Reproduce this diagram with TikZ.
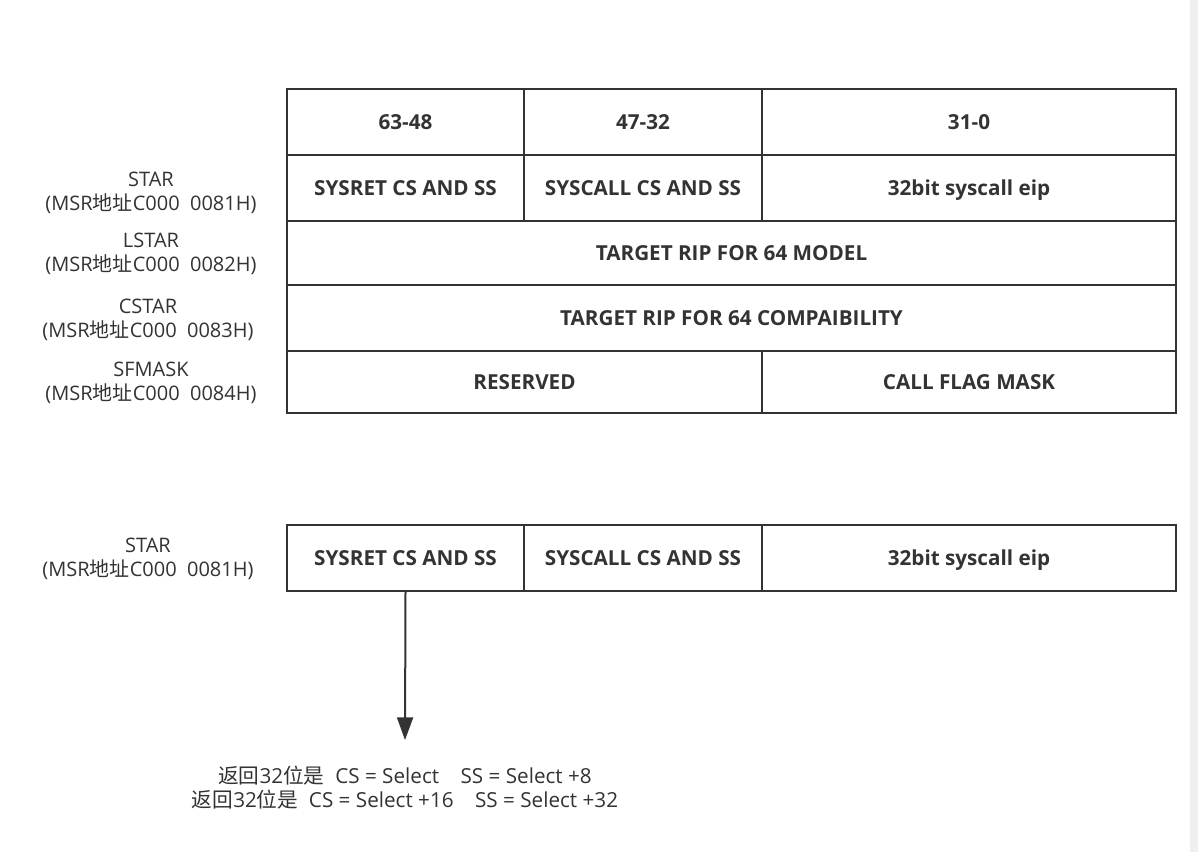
\documentclass[tikz,border=0pt]{standalone}
\usepackage{fontspec}
\setmainfont{Open Sans}
\newfontfamily\cjk{Noto Sans CJK SC}
\usetikzlibrary{arrows.meta}
\definecolor{ink}{HTML}{333333}
\definecolor{strip}{HTML}{EFEFEF}
\tikzset{
  cell/.style={draw=ink, line width=1.5pt, inner sep=0pt, text=ink, text height=14pt, text depth=3pt, font=\bfseries\fontsize{15.5}{18}\selectfont},
  reglabel/.style={align=center, text=ink, font=\fontsize{15}{18}\selectfont, inner sep=0pt},
  note/.style={align=center, text=ink, font=\fontsize{15.5}{18}\selectfont, inner sep=0pt},
  arrowline/.style={draw=ink, line width=1.5pt, -{Triangle[length=17pt,width=12pt]}}
}
\begin{document}
\begin{tikzpicture}[x=0.75pt,y=-0.75pt]
\useasboundingbox (0,0) rectangle (1198,852);
\fill[white] (0,0) rectangle (1198,852);
\fill[strip] (1190,0) rectangle (1198,852);
% header row
\node[cell, minimum width=177.75pt, minimum height=49.5pt] (h1) at (405.5,122) {63-48};
\node[cell, minimum width=178.5pt, minimum height=49.5pt] (h2) at (643,122) {47-32};
\node[cell, minimum width=310.5pt, minimum height=49.5pt] (h3) at (969,122) {31-0};
% STAR row
\node[cell, minimum width=177.75pt, minimum height=49.5pt] (s1) at (405.5,188) {SYSRET CS AND SS};
\node[cell, minimum width=178.5pt, minimum height=49.5pt] (s2) at (643,188) {SYSCALL CS AND SS};
\node[cell, minimum width=310.5pt, minimum height=49.5pt] (s3) at (969,188) {32bit syscall eip};
% LSTAR row
\node[cell, minimum width=666.75pt, minimum height=48pt] (l1) at (731.5,253) {TARGET RIP FOR 64 MODEL};
% CSTAR row
\node[cell, minimum width=666.75pt, minimum height=49.5pt] (c1) at (731.5,318) {TARGET RIP FOR 64 COMPAIBILITY};
% SFMASK row
\node[cell, minimum width=356.25pt, minimum height=46.5pt] (m1) at (524.5,382) {RESERVED};
\node[cell, minimum width=310.5pt, minimum height=46.5pt] (m2) at (969,382) {CALL FLAG MASK};
% labels
\node[reglabel] (lstar) at (151,193) {STAR\\(MSR{\cjk 地址}C000\ \ 0081H)};
\node[reglabel] (llstar) at (151,254) {LSTAR\\(MSR{\cjk 地址}C000\ \ 0082H)};
\node[reglabel] (lcstar) at (148,320) {CSTAR\\(MSR{\cjk 地址}C000\ \ 0083H)};
\node[reglabel] (lsfmask) at (151,383) {SFMASK\\(MSR{\cjk 地址}C000\ \ 0084H)};
% bottom table
\node[cell, minimum width=177.75pt, minimum height=49.5pt] (b1) at (405.5,558) {SYSRET CS AND SS};
\node[cell, minimum width=178.5pt, minimum height=49.5pt] (b2) at (643,558) {SYSCALL CS AND SS};
\node[cell, minimum width=310.5pt, minimum height=49.5pt] (b3) at (969,558) {32bit syscall eip};
\node[reglabel] (lbstar) at (148,559) {STAR\\(MSR{\cjk 地址}C000\ \ 0081H)};
% arrow and note
\coordinate (tip) at (405,740);
\draw[arrowline] (b1.south) -- (tip);
\node[note] (txt) at (405,788) {{\cjk 返回}32{\cjk 位是}\ \ CS = Select\ \ \ \ SS = Select +8\\{\cjk 返回}32{\cjk 位是}\ \ CS = Select +16\ \ \ \ SS = Select +32};
\end{tikzpicture}
\end{document}
